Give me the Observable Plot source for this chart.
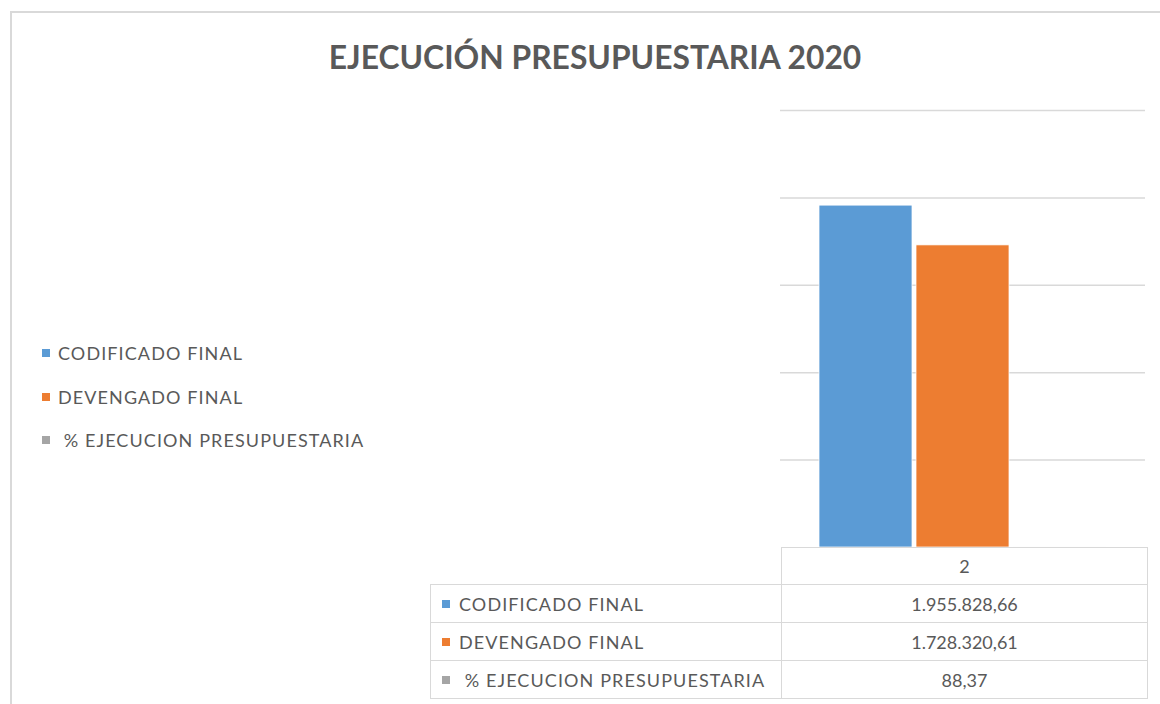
<!DOCTYPE html>
<html>
<head>
<meta charset="utf-8">
<script src="https://cdn.jsdelivr.net/npm/d3@7"></script>
<script src="https://cdn.jsdelivr.net/npm/@observablehq/plot@0.6"></script>
<style>
  html, body { margin: 0; padding: 0; background: #fff; }
  #root { position: relative; width: 1160px; height: 704px; overflow: hidden; font-family: Lato, "Open Sans", sans-serif; color: #595959; }
  #frame { position: absolute; left: 10px; top: 11px; width: 1200px; height: 760px; border-top: 2px solid #d9d9d9; border-left: 2px solid #d9d9d9; box-sizing: border-box; }
  #title { position: absolute; left: 595px; top: 35px; transform: translateX(-50%); font-weight: bold; font-size: 31.8px; white-space: nowrap; line-height: 44px; }
  #chart { position: absolute; left: 770px; top: 100px; }
  .leg { position: absolute; left: 42px; font-size: 18px; letter-spacing: 1.1px; white-space: pre; line-height: 22px; }
  .sw { display: inline-block; width: 8px; height: 8px; margin-right: 8px; vertical-align: 3px; }
  #tbl { position: absolute; left: 430px; top: 547px; border-collapse: collapse; font-size: 18px; }
  #tbl td { border: 1.5px solid #d9d9d9; padding: 0; white-space: pre; }
  #tbl td.lab { width: 339px; padding-left: 11px; letter-spacing: 1.1px; }
  #tbl td.val { width: 365px; text-align: center; }
</style>
</head>
<body>
<div id="root">
  <div id="frame"></div>
  <div id="title"></div>
  <div id="legend"></div>
  <div id="chart"></div>
  <table id="tbl"></table>
</div>
<script>
const title = "EJECUCIÓN PRESUPUESTARIA 2020";
const categories = ["2"];
const series = ["CODIFICADO FINAL", "DEVENGADO FINAL", " % EJECUCION PRESUPUESTARIA"];
const values = [1955828.66, 1728320.61, 88.37];
const colors = ["#5B9BD5", "#ED7D31", "#A5A5A5"];
const yTicks = [500000, 1000000, 1500000, 2000000, 2500000];
const yDomain = [0, 2500000];

const data = series.map((s, i) => ({category: categories[0], series: s, value: values[i]}));
const fmt = d3.formatLocale({decimal: ",", thousands: ".", grouping: [3], currency: ["", ""]}).format(",.2f");

document.getElementById("title").textContent = title;

// legend
const legend = document.getElementById("legend");
const legTops = [342, 386, 429];
series.forEach((s, i) => {
  const d = document.createElement("div");
  d.className = "leg";
  d.style.top = legTops[i] + "px";
  d.innerHTML = `<span class="sw" style="background:${colors[i]}"></span>`;
  d.appendChild(document.createTextNode(s));
  legend.appendChild(d);
});

// chart
const chart = Plot.plot({
  width: 380,
  height: 452,
  marginLeft: 10,
  marginRight: 5,
  marginTop: 10,
  marginBottom: 5,
  x: {domain: series, paddingInner: 0.04, paddingOuter: 0.4, axis: null},
  y: {domain: yDomain, axis: null},
  color: {domain: series, range: colors},
  marks: [
    Plot.ruleY(yTicks, {stroke: "#d9d9d9", strokeWidth: 1.5}),
    Plot.barY(data, {x: "series", y: "value", fill: "series", stroke: "white", strokeWidth: 0.75})
  ]
});
document.getElementById("chart").appendChild(chart);

// data table
const tbl = document.getElementById("tbl");
const hr = document.createElement("tr");
hr.style.height = "37px";
hr.innerHTML = `<td style="border-top:none;border-left:none;border-bottom:1.5px solid #d9d9d9"></td><td class="val">${categories[0]}</td>`;
tbl.appendChild(hr);
data.forEach((d, i) => {
  const tr = document.createElement("tr");
  tr.style.height = "38px";
  const lab = document.createElement("td");
  lab.className = "lab";
  lab.innerHTML = `<span class="sw" style="background:${colors[i]};margin-right:9px"></span>`;
  lab.appendChild(document.createTextNode(d.series));
  const val = document.createElement("td");
  val.className = "val";
  val.textContent = fmt(d.value);
  tr.appendChild(lab);
  tr.appendChild(val);
  tbl.appendChild(tr);
});
</script>
</body>
</html>
